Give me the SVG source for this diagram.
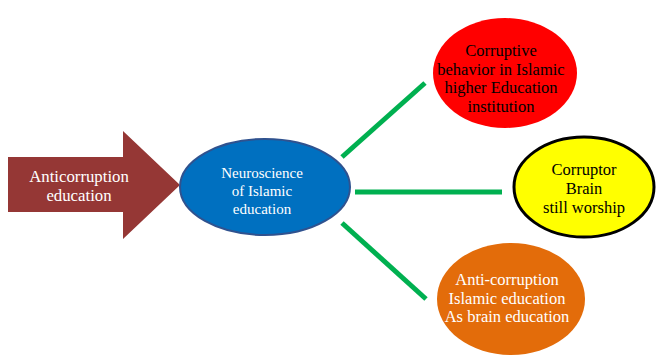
<svg xmlns="http://www.w3.org/2000/svg" width="657" height="358" viewBox="0 0 657 358">
<style>
text{font-family:"Liberation Serif","Times New Roman",serif;font-size:16.5px;text-anchor:middle}
.w{fill:#ffffff}
.k{fill:#000000}
.conn{stroke:#00B050;stroke-width:5;fill:none}
</style>
<rect width="657" height="358" fill="#ffffff"/>
<g id="connectors">
<line class="conn" x1="342" y1="157" x2="425" y2="83"/>
<line class="conn" x1="355" y1="192" x2="502" y2="192"/>
<line class="conn" x1="342" y1="223" x2="426" y2="299"/>
</g>
<g id="anticorruption">
<polygon points="8,157 123,157 123,131 180,185 123,239 123,212 8,212" fill="#953735"/>
<text class="w" x="79" y="182" style="font-size:16.8px">Anticorruption</text>
<text class="w" x="79" y="201" style="font-size:16.8px">education</text>
</g>
<g id="neuroscience">
<ellipse cx="265" cy="187" rx="85" ry="48" fill="#0070C0" stroke="#2F528F" stroke-width="2"/>
<text class="w" x="262" y="178" style="font-size:15px">Neuroscience</text>
<text class="w" x="262" y="196" style="font-size:15px">of Islamic</text>
<text class="w" x="262" y="214" style="font-size:15px">education</text>
</g>
<g id="corruptive">
<ellipse cx="505" cy="73" rx="72" ry="55" fill="#FF0000"/>
<text class="k" x="501" y="56">Corruptive</text>
<text class="k" x="501" y="75">behavior in Islamic</text>
<text class="k" x="501" y="93">higher Education</text>
<text class="k" x="501" y="112">institution</text>
</g>
<g id="corruptor">
<ellipse cx="584" cy="187" rx="70" ry="50" fill="#FFFF00" stroke="#000000" stroke-width="3"/>
<text class="k" x="584" y="175">Corruptor</text>
<text class="k" x="584" y="194">Brain</text>
<text class="k" x="584" y="213">still worship</text>
</g>
<g id="anti-corruption-islamic">
<ellipse cx="511" cy="299" rx="74" ry="56" fill="#E36C0A"/>
<text class="w" x="507" y="285">Anti-corruption</text>
<text class="w" x="507" y="304">Islamic education</text>
<text class="w" x="507" y="322">As brain education</text>
</g>
</svg>
